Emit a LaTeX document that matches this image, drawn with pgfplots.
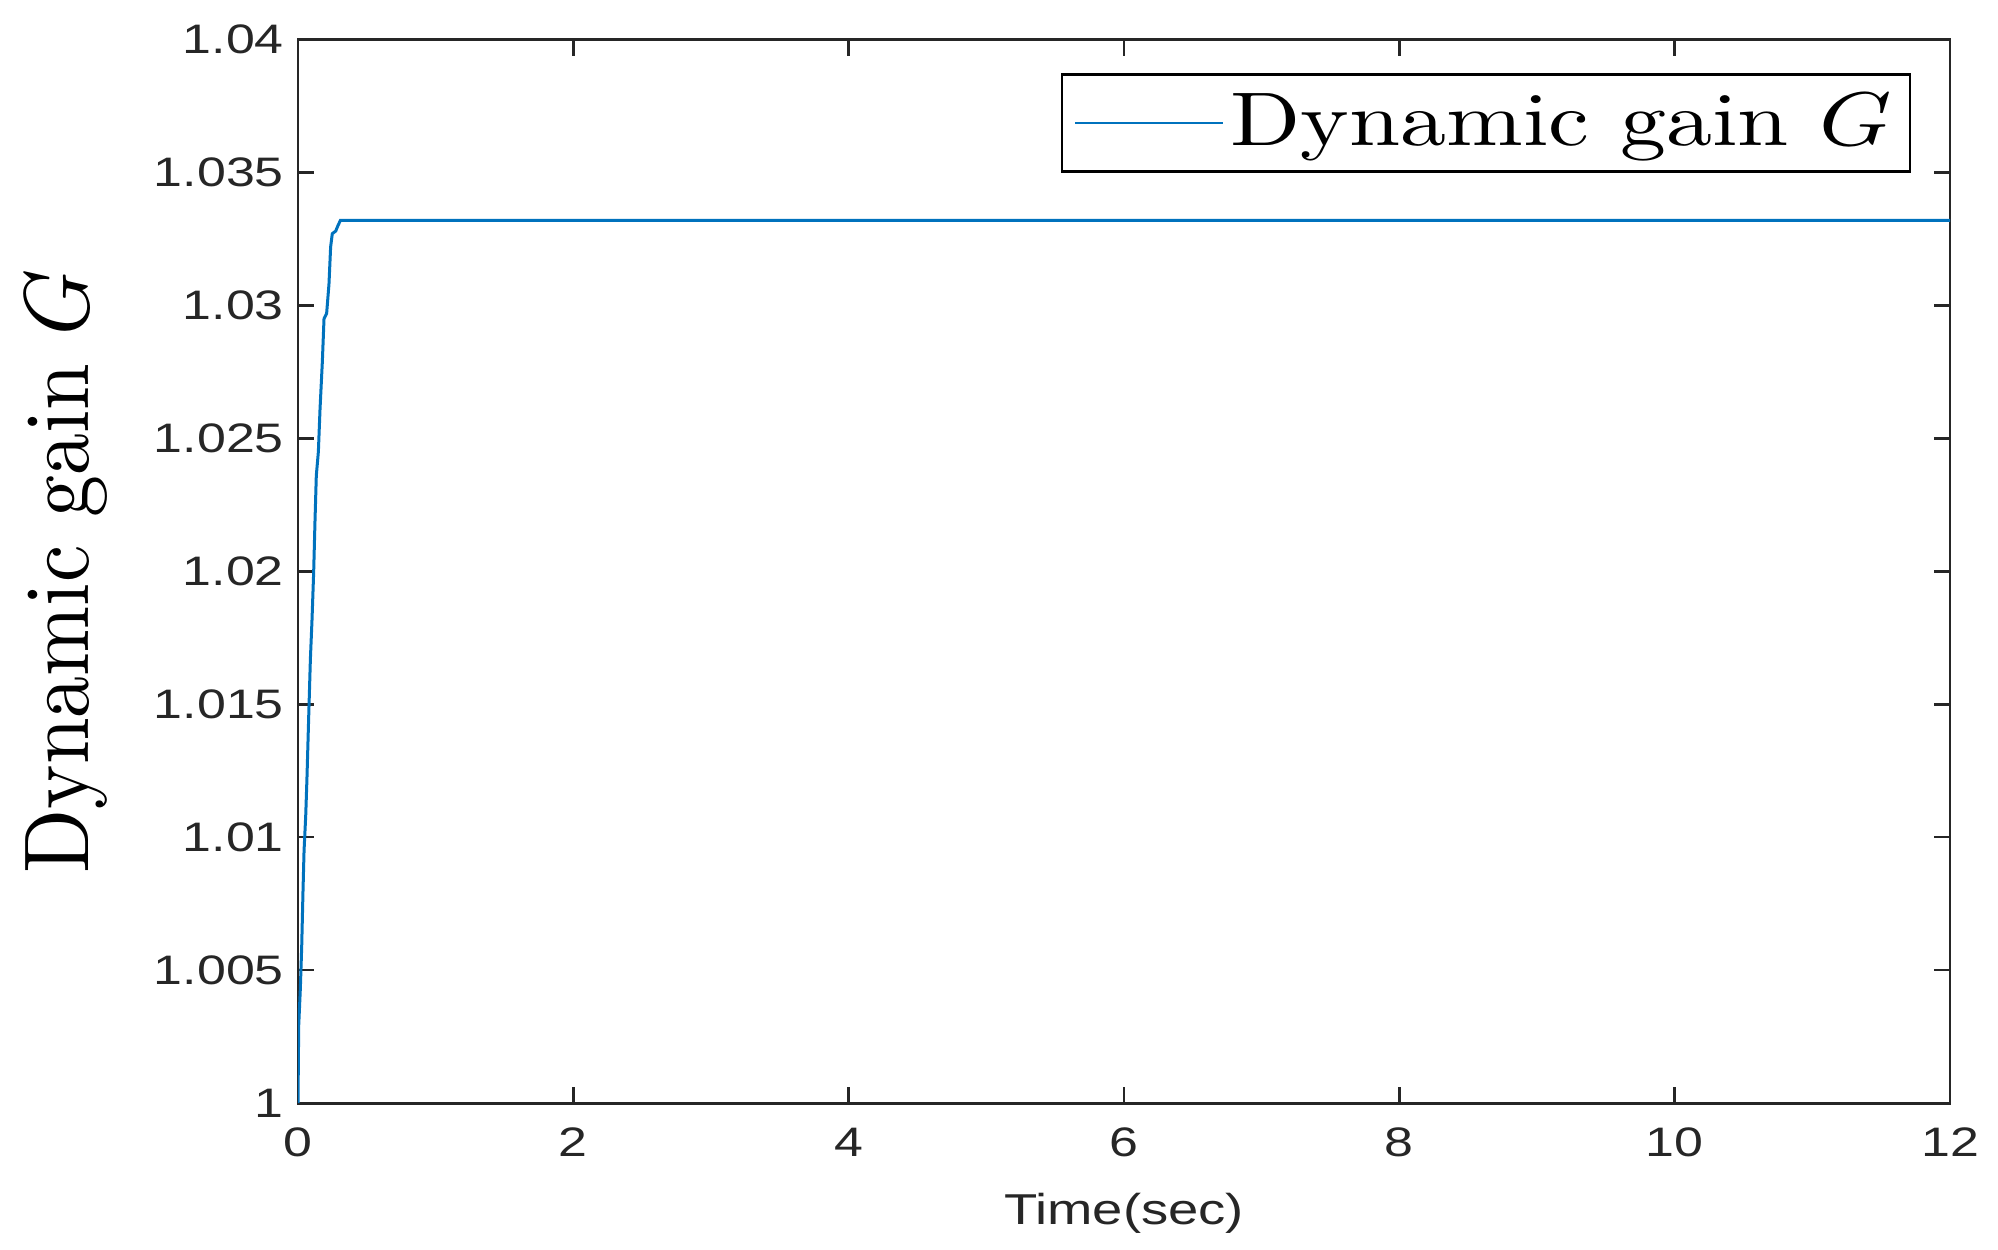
\documentclass[border=0pt]{standalone}
\usepackage{pgfplots}
\pgfplotsset{compat=1.18}
\usepackage{graphicx}
\usepackage{fontspec}
\newfontfamily\stretchsf[FakeStretch=1.26]{Liberation Sans}
\definecolor{mblue}{RGB}{0,114,189}
\definecolor{axgray}{RGB}{38,38,38}
\begin{document}
\begin{tikzpicture}
\begin{axis}[
  scale only axis, width=413pt, height=265.9pt,
  xmin=0, xmax=12, ymin=1, ymax=1.04,
  xtick={0,2,4,6,8,10,12},
  ytick={1,1.005,1.01,1.015,1.02,1.025,1.03,1.035,1.04},
  yticklabels={1,1.005,1.01,1.015,1.02,1.025,1.03,1.035,1.04},
  xticklabels={0,2,4,6,8,10,12},
  tick align=inside, major tick length=4pt,
  axis line style={axgray, line width=0.7pt},
  every tick/.style={axgray, line width=0.6pt},
  /pgf/number format/assume math mode=true,
  tick label style={font=\stretchsf\fontsize{10.3}{12}\selectfont, text=axgray},
  xticklabel style={yshift=-2.6pt},
  xlabel={Time(sec)},
  xlabel style={font=\stretchsf\fontsize{10.8}{12}\selectfont, text=axgray, at={(axis description cs:0.5,-0.1038)}, anchor=center},
  ylabel={\scalebox{2.1}[2.3]{Dynamic gain $G$}},
  ylabel style={font=\fontsize{10}{12}\selectfont, at={(axis description cs:-0.1404,0.5)}, anchor=center},
  legend style={at={(axis description cs:1,1)}, anchor=north east, xshift=-9.75pt, yshift=-8.4pt,
    draw=black, line width=0.6pt, fill=white, font=\fontsize{10}{12}\selectfont,
    inner xsep=3pt, inner ysep=3.4pt, nodes={inner sep=1.5pt}, cells={anchor=west}},
  legend image code/.code={\draw[#1, line width=0.6pt] (0pt,0pt) -- (37pt,0pt);},
  /tikz/every even column/.append style={column sep=5.5pt},
]
\addplot[mblue, line width=0.75pt] coordinates {
(0,1.0) (0.005,1.0029) (0.017,1.0043) (0.027,1.0059) (0.036,1.0079) (0.044,1.0095)
(0.056,1.0108) (0.065,1.0122) (0.077,1.0144) (0.09,1.0167) (0.102,1.0182) (0.114,1.0200)
(0.123,1.0218) (0.133,1.0236) (0.148,1.0245) (0.16,1.0261) (0.177,1.0279) (0.189,1.0295)
(0.208,1.0297) (0.225,1.0308) (0.237,1.0322) (0.249,1.0327) (0.274,1.0328) (0.29,1.0330)
(0.308,1.0332) (12,1.0332)
};
\addlegendentry{\scalebox{2.3}[1.9]{Dynamic gain $G$}}
\end{axis}
\path[use as bounding box] ([xshift=-74.5pt,yshift=-36.5pt]current axis.south west) rectangle ([xshift=12pt,yshift=9.9pt]current axis.north east);
\end{tikzpicture}
\end{document}
